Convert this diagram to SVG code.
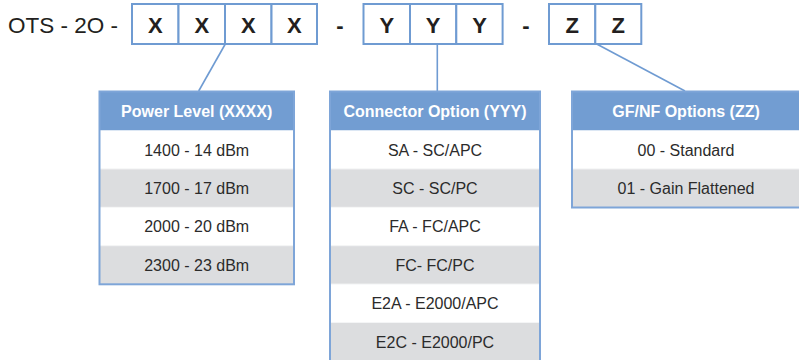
<svg xmlns="http://www.w3.org/2000/svg" width="799" height="360" viewBox="0 0 799 360">
<style>
.bg{fill:#ffffff}
.box{fill:#ffffff;stroke:#6f9bd2;stroke-width:2}
.code{font-family:"Liberation Sans",Arial,sans-serif;font-size:22px;font-weight:bold;fill:#231f20;text-anchor:middle}
.lead{font-family:"Liberation Sans",Arial,sans-serif;font-size:22.5px;fill:#231f20}
.dash{font-family:"Liberation Sans",Arial,sans-serif;font-size:22px;font-weight:bold;fill:#231f20;text-anchor:middle}
.hdr{fill:#729dd2}
.hdrt{font-family:"Liberation Sans",Arial,sans-serif;font-size:16px;font-weight:bold;fill:#ffffff;text-anchor:middle}
.w{fill:#ffffff}
.g{fill:#dcdddf}
.sep{stroke:#f4f5f6;stroke-width:1}
.rowt{font-family:"Liberation Sans",Arial,sans-serif;font-size:16px;fill:#2b2b2b;text-anchor:middle}
.frame{fill:none;stroke:#7ea5d8;stroke-width:2}
.conn{stroke:#6f9bd2;stroke-width:1.6;fill:none}
</style>
<rect class="bg" x="0" y="0" width="799" height="360"/>
<g id="code">
<text class="lead" x="8" y="33">OTS - 2O -</text>
<rect class="box" x="132" y="4" width="46.5" height="40"/>
<rect class="box" x="178.5" y="4" width="46.5" height="40"/>
<rect class="box" x="225" y="4" width="46.5" height="40"/>
<rect class="box" x="271.5" y="4" width="45.5" height="40"/>
<text class="code" x="155.3" y="33">X</text>
<text class="code" x="201.8" y="33">X</text>
<text class="code" x="248.3" y="33">X</text>
<text class="code" x="294.3" y="33">X</text>
<text class="dash" x="340" y="33">-</text>
<rect class="box" x="363.5" y="4" width="46.5" height="40"/>
<rect class="box" x="410" y="4" width="46.3" height="40"/>
<rect class="box" x="456.3" y="4" width="46.3" height="40"/>
<text class="code" x="386.8" y="33">Y</text>
<text class="code" x="433.2" y="33">Y</text>
<text class="code" x="479.5" y="33">Y</text>
<text class="dash" x="526" y="33">-</text>
<rect class="box" x="549" y="4" width="46.3" height="40"/>
<rect class="box" x="595.3" y="4" width="46" height="40"/>
<text class="code" x="572.2" y="33">Z</text>
<text class="code" x="618.3" y="33">Z</text>
</g>
<g id="connectors">
<line class="conn" x1="225.3" y1="44" x2="198.7" y2="91"/>
<line class="conn" x1="437.3" y1="44" x2="437.3" y2="91"/>
<line class="conn" x1="596.7" y1="44" x2="685" y2="91"/>
</g>
<g id="power">
<rect class="hdr" x="99.5" y="91.5" width="194.5" height="39"/>
<text class="hdrt" x="196.7" y="116.5">Power Level (XXXX)</text>
<rect class="w" x="99.5" y="130.5" width="194.5" height="38.4"/>
<rect class="g" x="99.5" y="168.9" width="194.5" height="38.4"/>
<rect class="w" x="99.5" y="207.3" width="194.5" height="38.4"/>
<rect class="g" x="99.5" y="245.7" width="194.5" height="38.6"/>
<line class="sep" x1="99.5" y1="168.9" x2="294" y2="168.9"/>
<line class="sep" x1="99.5" y1="207.3" x2="294" y2="207.3"/>
<line class="sep" x1="99.5" y1="245.7" x2="294" y2="245.7"/>
<text class="rowt" x="196.7" y="155.6">1400 - 14 dBm</text>
<text class="rowt" x="196.7" y="194">1700 - 17 dBm</text>
<text class="rowt" x="196.7" y="232.4">2000 - 20 dBm</text>
<text class="rowt" x="196.7" y="270.8">2300 - 23 dBm</text>
<rect class="frame" x="99.5" y="91.5" width="194.5" height="192.8"/>
</g>
<g id="connector">
<rect class="hdr" x="330" y="91.5" width="210" height="39"/>
<text class="hdrt" x="435" y="116.5">Connector Option (YYY)</text>
<rect class="w" x="330" y="130.5" width="210" height="38.4"/>
<rect class="g" x="330" y="168.9" width="210" height="38.4"/>
<rect class="w" x="330" y="207.3" width="210" height="38.4"/>
<rect class="g" x="330" y="245.7" width="210" height="38.4"/>
<rect class="w" x="330" y="284.1" width="210" height="38.4"/>
<rect class="g" x="330" y="322.5" width="210" height="38.4"/>
<line class="sep" x1="330" y1="168.9" x2="540" y2="168.9"/>
<line class="sep" x1="330" y1="207.3" x2="540" y2="207.3"/>
<line class="sep" x1="330" y1="245.7" x2="540" y2="245.7"/>
<line class="sep" x1="330" y1="284.1" x2="540" y2="284.1"/>
<line class="sep" x1="330" y1="322.5" x2="540" y2="322.5"/>
<text class="rowt" x="435" y="155.6">SA - SC/APC</text>
<text class="rowt" x="435" y="194">SC - SC/PC</text>
<text class="rowt" x="435" y="232.4">FA - FC/APC</text>
<text class="rowt" x="435" y="270.8">FC- FC/PC</text>
<text class="rowt" x="435" y="309.2">E2A - E2000/APC</text>
<text class="rowt" x="435" y="347.6">E2C - E2000/PC</text>
<rect class="frame" x="330" y="91.5" width="210" height="272"/>
</g>
<g id="gfnf">
<rect class="hdr" x="572" y="91.5" width="228" height="39"/>
<text class="hdrt" x="686" y="116.5">GF/NF Options (ZZ)</text>
<rect class="w" x="572" y="130.5" width="228" height="38.4"/>
<rect class="g" x="572" y="168.9" width="228" height="38.6"/>
<line class="sep" x1="572" y1="168.9" x2="800" y2="168.9"/>
<text class="rowt" x="686" y="155.6">00 - Standard</text>
<text class="rowt" x="686" y="194">01 - Gain Flattened</text>
<rect class="frame" x="572" y="91.5" width="230" height="116"/>
</g>
</svg>
